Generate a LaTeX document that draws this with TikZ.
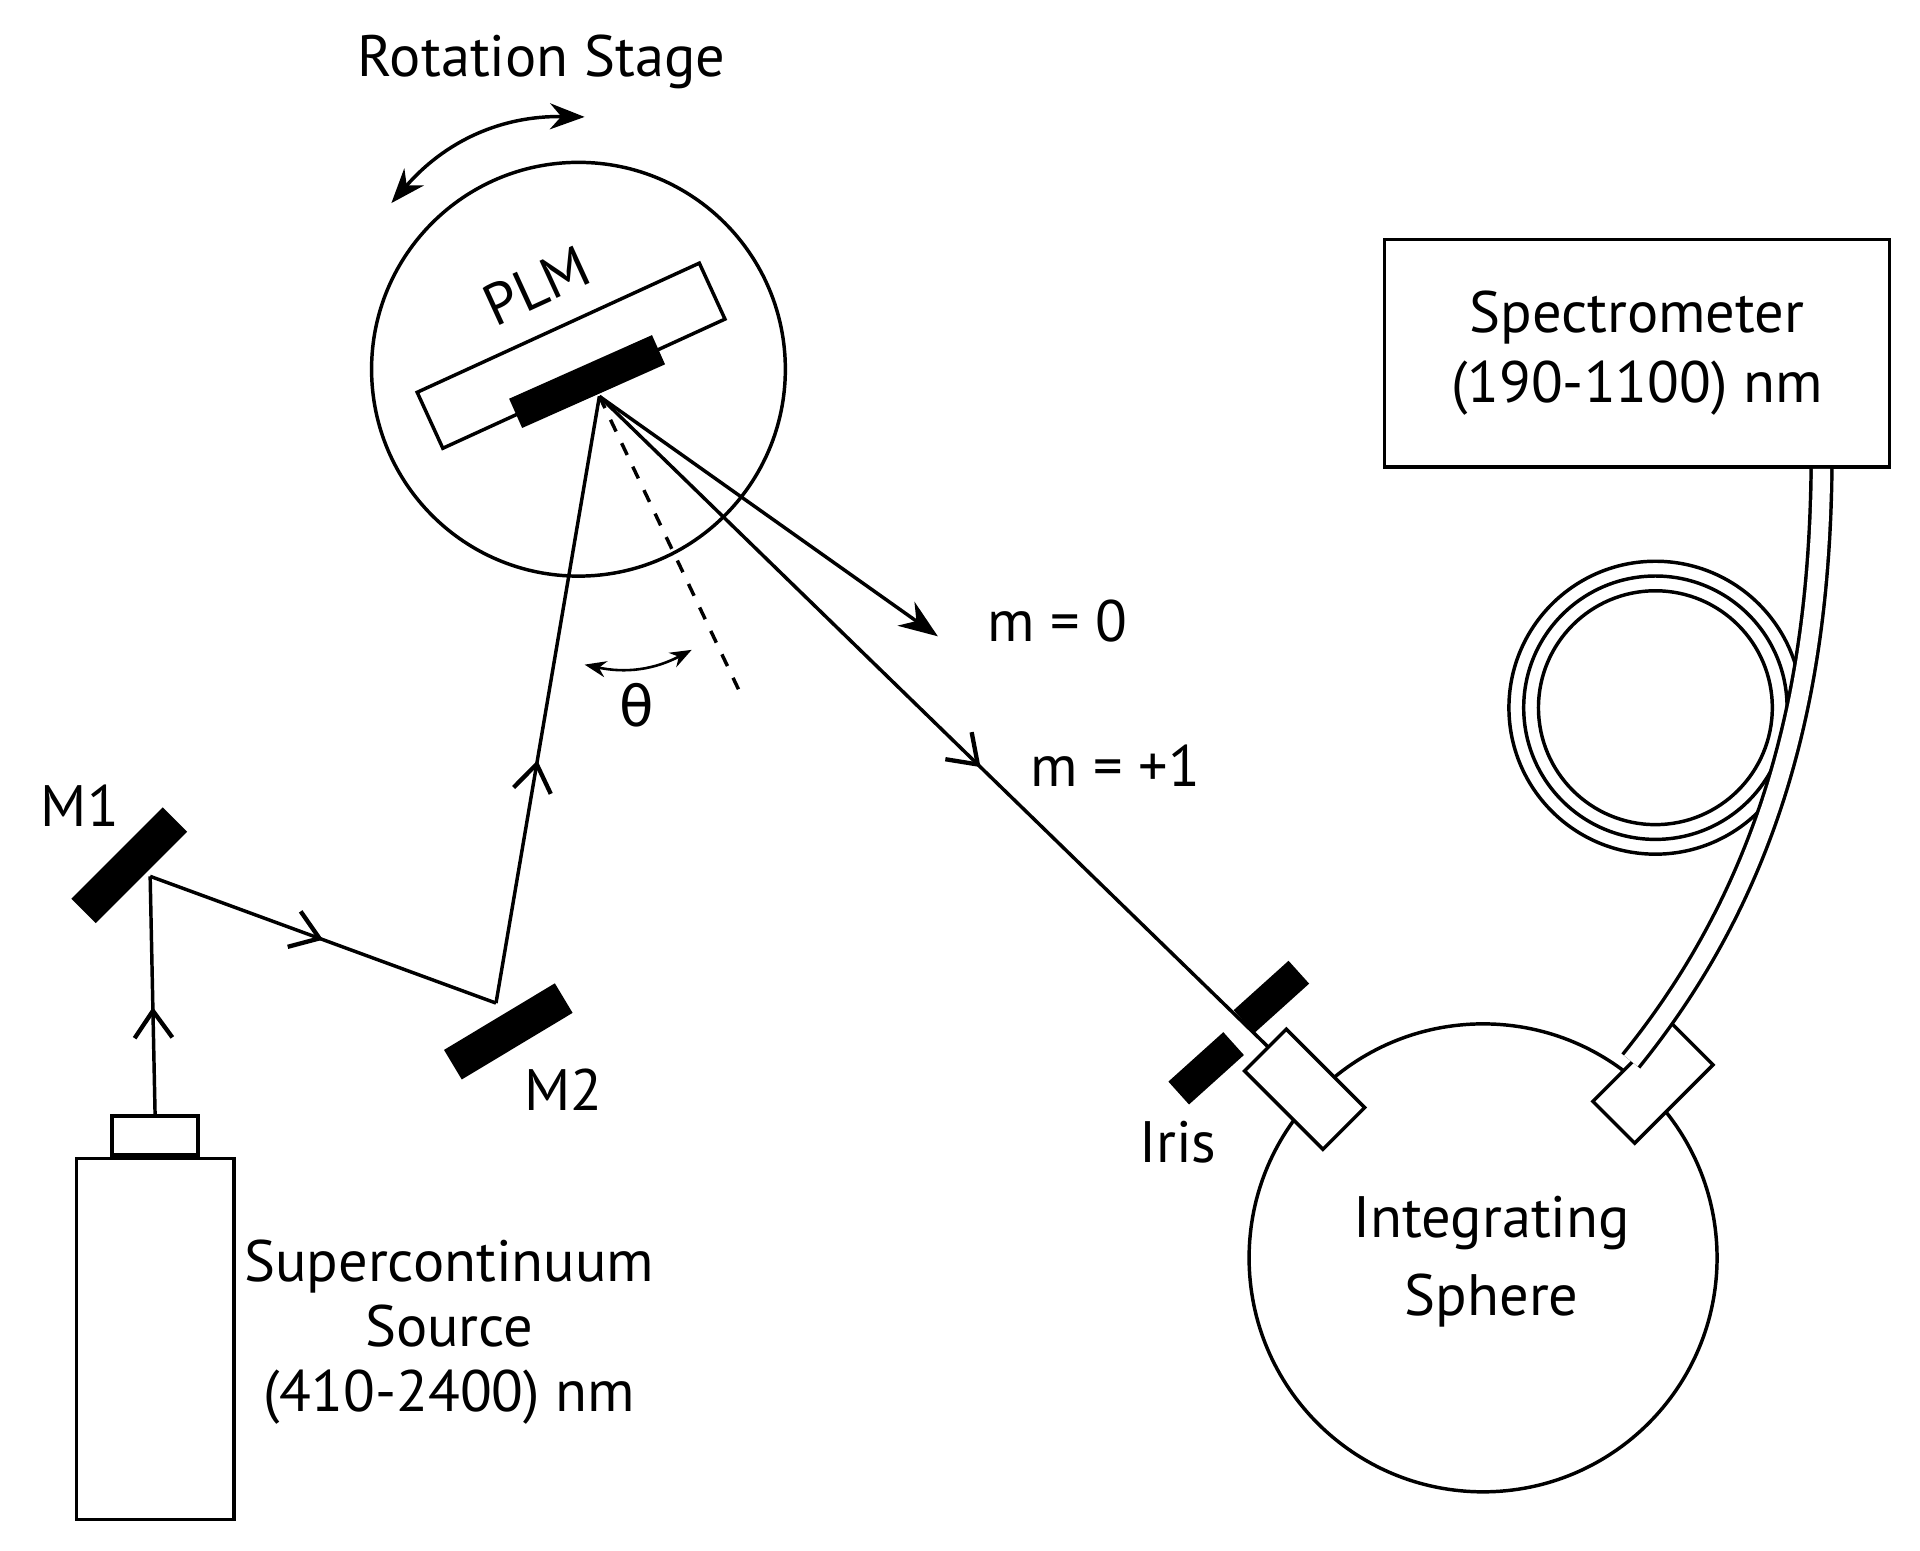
\documentclass[tikz,border=0pt]{standalone}
\usepackage{fontspec}
\setmainfont{PT Sans}
\newfontfamily\greekfont{DejaVu Sans}
\usetikzlibrary{arrows.meta, decorations.markings, positioning}
\tikzset{
    beam/.style={thick},
    midarrow/.style={
        beam,
        postaction={decorate},
        decoration={markings, mark=at position #1 with {\arrow{Straight Barb[angle=70:6pt 2, line width=1pt]}}}
    },
    mirror/.style={fill=black, minimum width=1.05cm, minimum height=0.28cm, inner sep=0pt},
    irisbar/.style={fill=black, minimum width=0.6cm, minimum height=0.25cm, inner sep=0pt},
    box/.style={draw, thick, inner sep=0pt},
    lbl/.style={font=\fontsize{13.5}{16}\selectfont, align=center},
}
\begin{document}
\begin{tikzpicture}[x=0.01cm, y=-0.01cm]
    \useasboundingbox (0,0) rectangle (1560,1260);
    % rotation stage
    \node[lbl] (rot) at (440,50) {Rotation Stage};
    \draw[thick, {Stealth[length=8pt]}-{Stealth[length=8pt]}] (318,165) to[bend left=25] (475,95);
    \node[draw, thick, circle, minimum size=3.36cm] (stage) at (470,300) {};
    \node[box, rotate=24.6, minimum width=2.52cm, minimum height=0.5cm] (holder) at (464,289) {};
    \node[mirror, rotate=24, minimum width=1.27cm, minimum height=0.26cm] (plm) at (477,310) {};
    \node[lbl, rotate=24.6] (plmtext) at (436,232) {PLM};
    \coordinate (hit) at (487,322);
    % source and mirrors
    \node[box, minimum width=1.28cm, minimum height=2.93cm] (source) at (126,1088) {};
    \node[box, minimum width=0.7cm, minimum height=0.32cm, above=0pt of source] (head) {};
    \node[lbl, align=center] (srctext) at (365,1082) {Supercontinuum\\[-1pt]Source\\[-1pt](410-2400) nm};
    \node[mirror, rotate=45] (m1) at (105,703) {};
    \node[lbl] (m1text) at (65,655) {M1};
    \node[mirror, rotate=31] (m2) at (413,838) {};
    \node[lbl] (m2text) at (458,885) {M2};
    \coordinate (m1hit) at (122,712);
    \coordinate (m2hit) at (403,815);
    \draw[midarrow=0.45] (head.north) -- (m1hit);
    \draw[midarrow=0.5] (m1hit) -- (m2hit);
    \draw[midarrow=0.4] (m2hit) -- (hit);
    % diffracted orders
    \coordinate (m0end) at (762,517);
    \draw[beam, -{Stealth[length=9pt]}] (hit) -- (m0end);
    \node[lbl, anchor=west] (m0) at (790,505) {m = 0};
    \coordinate (irisgap) at (1040,860);
    \draw[midarrow=0.56] (hit) -- (irisgap);
    \node[lbl, anchor=west] (m1order) at (825,622) {m = +1};
    \coordinate (normal) at (600,560);
    \draw[thick, dashed] (hit) -- (normal);
    \draw[semithick, {Stealth[length=5pt]}-{Stealth[length=5pt]}] (475,540) to[bend right=20] (562,528);
    \node[lbl, font=\greekfont\fontsize{13}{16}\selectfont] (theta) at (517,573) {θ};
    % iris
    \node[irisbar, rotate=42] (iris1) at (1033,810) {};
    \node[irisbar, rotate=42] (iris2) at (980,868) {};
    \node[lbl] (iristext) at (957,928) {Iris};
    % integrating sphere
    \node[draw, thick, circle, minimum size=3.8cm] (sphere) at (1205,1022) {};
    \node[lbl, align=center] (spheretext) at (1212,1025) {Integrating\\[2pt]Sphere};
    \node[box, fill=white, rotate=-45, minimum width=0.9cm, minimum height=0.48cm] (portl) at (1060,885) {};
    \node[box, fill=white, rotate=45, minimum width=0.9cm, minimum height=0.48cm] (portr) at (1343,880) {};
    % spectrometer and fiber
    \node[box, minimum width=4.1cm, minimum height=1.85cm] (spec) at (1330,287) {};
    \node[lbl, align=center] (spectext) at (spec) {Spectrometer\\[0pt](190-1100) nm};
    \foreach \r in {95,107,119}
        \draw[thick] (1345,575) circle (\r);
    \draw[thick, double, double distance=4pt] (portr.north) .. controls (1440,720) and (1478,560) .. (spec.south -| 1480,380);
\end{tikzpicture}
\end{document}
